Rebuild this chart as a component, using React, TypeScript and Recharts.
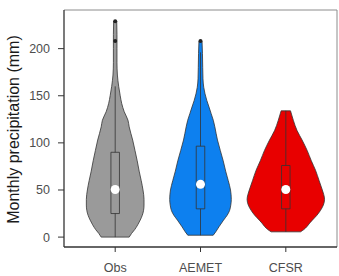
import React from "react";
import {
  Area,
  ComposedChart,
  ReferenceArea,
  ReferenceDot,
  ReferenceLine,
  XAxis,
  YAxis,
} from "recharts";

document.body.style.margin = "0";

const FONT = "'Liberation Sans', Arial, sans-serif";
const OUTLINE = "#333333";

const GROUPS = ["Obs", "AEMET", "CFSR"];
const FILLS = ["#9a9a9a", "#0d80ef", "#e80000"];

// violin outlines: precipitation level (mm) and half width of the violin (category units)
const OBS_LEVELS = [0, 4, 8, 13, 18, 23, 28, 34, 40, 50, 60, 70, 81, 92, 103, 117, 124, 133, 142, 150, 160, 172, 185, 200, 215, 229];
const OBS_HALF = [0.164, 0.193, 0.229, 0.264, 0.293, 0.317, 0.332, 0.338, 0.338, 0.326, 0.305, 0.281, 0.258, 0.232, 0.205, 0.164, 0.15, 0.106, 0.076, 0.059, 0.041, 0.026, 0.021, 0.021, 0.021, 0.018];

const AEMET_LEVELS = [2, 6, 11, 18, 23, 28, 34, 40, 50, 60, 70, 81, 92, 103, 117, 124, 131, 138, 145, 152, 159, 168, 180, 195, 208];
const AEMET_HALF = [0.149, 0.182, 0.217, 0.27, 0.311, 0.34, 0.355, 0.361, 0.352, 0.325, 0.295, 0.266, 0.232, 0.199, 0.168, 0.15, 0.125, 0.1, 0.074, 0.053, 0.038, 0.029, 0.026, 0.023, 0.018];

const CFSR_LEVELS = [5.6, 8, 11, 15, 18, 23, 28, 34, 40, 45, 50, 60, 71, 81, 92, 103, 113, 124, 134];
const CFSR_HALF = [0.172, 0.211, 0.246, 0.281, 0.311, 0.363, 0.404, 0.44, 0.454, 0.445, 0.428, 0.39, 0.348, 0.299, 0.25, 0.191, 0.132, 0.088, 0.055];

// boxplot stats per group
const BOX_MIN = [0, 2, 5.6];
const BOX_Q1 = [25, 30, 30];
const BOX_MEDIAN = [50.5, 56, 50.5];
const BOX_Q3 = [90, 96.5, 76];
const BOX_MAX = [160, 196, 134];
const OUTLIERS = [[208, 229], [208], []];

const Y_TICKS = [0, 50, 100, 150, 200];

const violins = [
  [OBS_LEVELS, OBS_HALF],
  [AEMET_LEVELS, AEMET_HALF],
  [CFSR_LEVELS, CFSR_HALF],
].map(([levels, half], i) =>
  levels.map((y, k) => ({ y, range: [i + 1 - half[k], i + 1 + half[k]] }))
);

const BOX_HALF = 0.05;

export default function App() {
  return (
    <ComposedChart
      width={339}
      height={276}
      layout="vertical"
      margin={{ top: 10, right: 2, bottom: 0, left: 0 }}
    >
      <XAxis
        type="number"
        domain={[0.4, 3.6]}
        ticks={[1, 2, 3]}
        tickFormatter={(v) => GROUPS[v - 1]}
        allowDataOverflow
        height={29}
        tickSize={5}
        tickMargin={11}
        tick={{ fill: "#4d4d4d", fontSize: 12.5, fontFamily: FONT }}
        tickLine={{ stroke: OUTLINE }}
        axisLine={{ stroke: OUTLINE, strokeWidth: 1.3 }}
      />
      <YAxis
        type="number"
        dataKey="y"
        domain={[-10.5, 241]}
        ticks={Y_TICKS}
        reversed
        allowDataOverflow
        width={64}
        tickSize={6}
        tickMargin={8}
        tick={{ fill: "#4d4d4d", fontSize: 12.5, fontFamily: FONT }}
        tickLine={{ stroke: OUTLINE }}
        axisLine={{ stroke: OUTLINE, strokeWidth: 1.3 }}
        label={{
          value: "Monthly precipitation (mm)",
          angle: -90,
          position: "center",
          dx: -19,
          dy: 1,
          style: { fill: "#1a1a1a", fontSize: 16, fontFamily: FONT },
        }}
      />
      <ReferenceLine y={241} stroke="#8c8c8c" />
      <ReferenceLine x={3.6} stroke="#8c8c8c" />

      {violins.map((data, i) => (
        <Area
          key={GROUPS[i]}
          data={data}
          dataKey="range"
          type="monotone"
          fill={FILLS[i]}
          fillOpacity={1}
          stroke={OUTLINE}
          strokeWidth={0.8}
          dot={false}
          activeDot={false}
          isAnimationActive={false}
        />
      ))}

      {violins.map((data, i) => {
        const first = data[0];
        const last = data[data.length - 1];
        return (
          <React.Fragment key={`cap-${i}`}>
            <ReferenceLine
              segment={[
                { x: first.range[0], y: first.y },
                { x: first.range[1], y: first.y },
              ]}
              stroke={OUTLINE}
              strokeWidth={0.8}
            />
            <ReferenceLine
              segment={[
                { x: last.range[0], y: last.y },
                { x: last.range[1], y: last.y },
              ]}
              stroke={OUTLINE}
              strokeWidth={0.8}
            />
          </React.Fragment>
        );
      })}

      {GROUPS.map((g, i) => (
        <React.Fragment key={`box-${g}`}>
          <ReferenceLine
            segment={[
              { x: i + 1, y: BOX_MIN[i] },
              { x: i + 1, y: BOX_Q1[i] },
            ]}
            stroke={OUTLINE}
            strokeWidth={0.8}
          />
          <ReferenceLine
            segment={[
              { x: i + 1, y: BOX_Q3[i] },
              { x: i + 1, y: BOX_MAX[i] },
            ]}
            stroke={OUTLINE}
            strokeWidth={0.8}
          />
          <ReferenceArea
            x1={i + 1 - BOX_HALF}
            x2={i + 1 + BOX_HALF}
            y1={BOX_Q1[i]}
            y2={BOX_Q3[i]}
            fill={FILLS[i]}
            fillOpacity={1}
            stroke={OUTLINE}
            strokeWidth={0.8}
          />
          <ReferenceDot
            x={i + 1}
            y={BOX_MEDIAN[i]}
            r={4.5}
            fill="#ffffff"
            stroke="none"
          />
          {OUTLIERS[i].map((v) => (
            <ReferenceDot
              key={`out-${g}-${v}`}
              x={i + 1}
              y={v}
              r={2}
              fill="#222222"
              stroke="none"
            />
          ))}
        </React.Fragment>
      ))}
    </ComposedChart>
  );
}
